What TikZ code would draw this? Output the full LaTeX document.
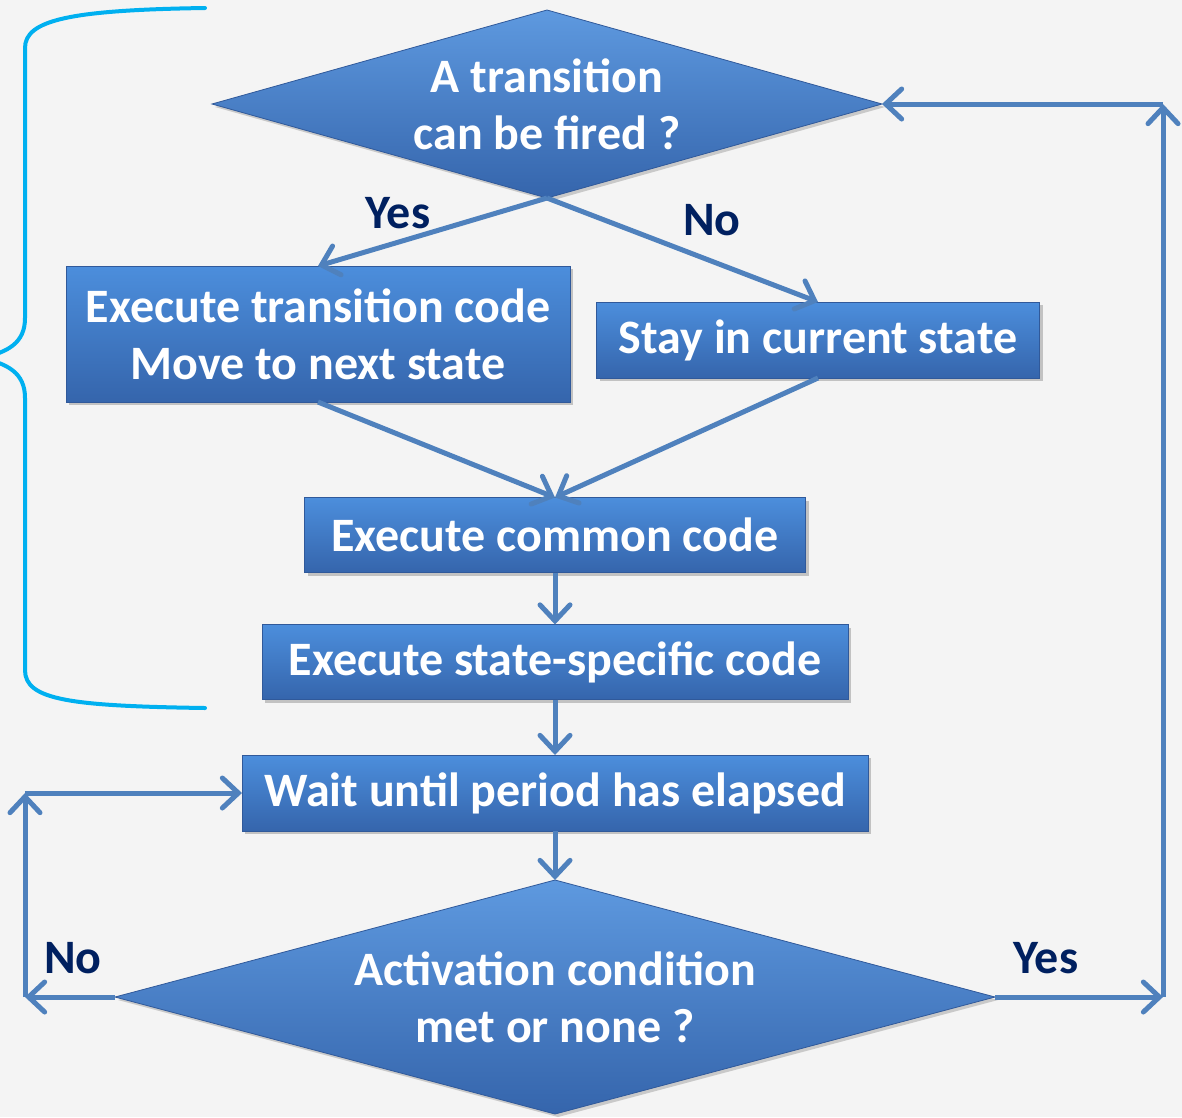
\documentclass[tikz,border=0pt]{standalone}
\usepackage{fontspec}
\setmainfont{Carlito}
\usetikzlibrary{shapes.geometric,arrows.meta,shadows}

\definecolor{bgpaper}{HTML}{F4F4F4}
\definecolor{boxtop}{HTML}{4C8EDC}
\definecolor{boxbot}{HTML}{3565AC}
\definecolor{boxedge}{HTML}{30599A}
\definecolor{flowline}{HTML}{4F81BD}
\definecolor{navy}{HTML}{002060}
\definecolor{bracecyan}{HTML}{00B0F0}

\tikzset{
  txt/.style={font=\fontsize{48}{57}\selectfont\bfseries, text=white, align=center},
  stepbox/.style={txt, rectangle, inner sep=0pt, outer sep=0pt,
    top color=boxtop, bottom color=boxbot, draw=boxedge, line width=1pt,
    drop shadow={shadow xshift=3pt, shadow yshift=-3pt, opacity=0.35, fill=black!60}},
  decision/.style={txt, diamond, inner sep=0pt, outer sep=0pt,
    top color=boxtop!90!white, bottom color=boxbot, draw=boxedge, line width=0.8pt,
    drop shadow={shadow xshift=3pt, shadow yshift=-3pt, opacity=0.3, fill=black!60}},
  arr/.style={draw=flowline, line width=5pt,
    -{Straight Barb[length=16pt, width=30pt, line cap=round]}},
  lbl/.style={font=\fontsize{48}{57}\selectfont\bfseries, text=navy, inner sep=0pt}
}

\begin{document}
\begin{tikzpicture}[x=1pt, y=-1pt]
  \useasboundingbox (0,0) rectangle (1182,1117);
  \clip (0,0) rectangle (1182,1117);
  \fill[bgpaper] (0,0) rectangle (1182,1117);

  % curly brace grouping the body of one period
  \draw[bracecyan, line width=4pt, line cap=round]
    (205,8) .. controls (70,10) and (25,20) .. (25,48) -- (25,318)
    .. controls (25,343) and (8,352) .. (-18,358)
    .. controls (8,364) and (25,373) .. (25,398) -- (25,670)
    .. controls (25,700) and (70,706) .. (205,708);

  % decisions and actions
  \node[decision, aspect=3.56, minimum width=670pt, minimum height=188pt] (fire) at (547,104)
    {A transition\\can be fired ?};
  \node[stepbox, minimum width=504pt, minimum height=136pt] (trans) at (318,334)
    {Execute transition code\\Move to next state};
  \node[stepbox, minimum width=443pt, minimum height=76pt] (stay) at (818,340)
    {Stay in current state};
  \node[stepbox, minimum width=501pt, minimum height=75pt] (common) at (555,535)
    {Execute common code};
  \node[stepbox, minimum width=586pt, minimum height=75pt] (specific) at (555,662)
    {Execute state-specific code};
  \node[stepbox, minimum width=626pt, minimum height=76pt] (wait) at (555,793)
    {Wait until period has elapsed};
  \node[decision, aspect=3.76, minimum width=880pt, minimum height=234pt] (activ) at (555,997)
    {Activation condition\\met or none ?};

  % loop corners
  \coordinate (lowL) at (25,997);
  \coordinate (upL) at (25,793);
  \coordinate (lowR) at (1163,997);
  \coordinate (upR) at (1163,104);

  % connectors
  \draw[arr] (fire.south) -- (trans.north);
  \draw[arr] (fire.south) -- (stay.north);
  \draw[arr] (trans.south) -- (common.north);
  \draw[arr] (stay.south) -- (common.north);
  \draw[arr] (common.south) -- (specific.north);
  \draw[arr] (specific.south) -- (wait.north);
  \draw[arr] (wait.south) -- (activ.north);

  \draw[arr] (activ.west) -- (lowL);
  \draw[arr] (lowL) -- (upL);
  \draw[arr] (upL) -- (wait.west);

  \draw[arr] (activ.east) -- (lowR);
  \draw[arr] (lowR) -- (upR);
  \draw[arr] (upR) -- (fire.east);

  % branch labels
  \node[lbl] (yesTop) at (398,213) {Yes};
  \node[lbl] (noTop) at (712,220) {No};
  \node[lbl] (noBot) at (73,958) {No};
  \node[lbl] (yesBot) at (1046,958) {Yes};
\end{tikzpicture}
\end{document}
